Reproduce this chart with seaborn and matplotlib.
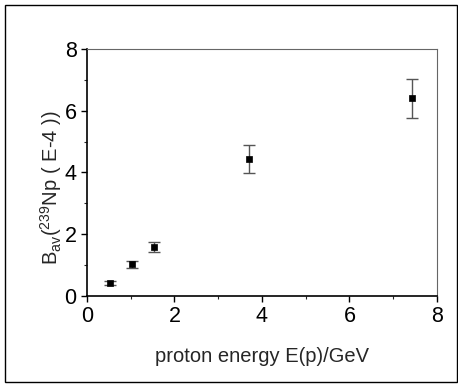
import matplotlib
matplotlib.use("Agg")
import matplotlib.pyplot as plt
import seaborn as sns
import pandas as pd
from matplotlib.patches import Rectangle
from matplotlib.ticker import MultipleLocator

energy = [0.52, 1.03, 1.52, 3.71, 7.42]
bav = [0.43, 1.03, 1.58, 4.44, 6.40]
err = [0.07, 0.11, 0.16, 0.45, 0.64]
ticks = [0, 2, 4, 6, 8]

sns.set_style("ticks")
plt.rcParams['font.family'] = ['Liberation Sans', 'DejaVu Sans']
plt.rcParams['mathtext.fontset'] = 'custom'
plt.rcParams['mathtext.rm'] = 'Liberation Sans'

df = pd.DataFrame({"E": energy, "B": bav, "err": err})

fig = plt.figure(figsize=(4.58, 3.85), dpi=100)
ax = fig.add_axes([0.19, 0.231, 0.764, 0.642])

ax.errorbar(df["E"], df["B"], yerr=df["err"], fmt='none', ecolor='#555555',
            elinewidth=1.0, capsize=4, capthick=1.0, zorder=2)
sns.scatterplot(data=df, x="E", y="B", marker='s', color='black', s=22,
                edgecolor='black', linewidth=0.5, ax=ax, zorder=3)

ax.set_xlim(0, 8)
ax.set_ylim(0, 8)
ax.set_xticks(ticks)
ax.set_yticks(ticks)
ax.xaxis.set_minor_locator(MultipleLocator(1))
ax.yaxis.set_minor_locator(MultipleLocator(1))
ax.tick_params(which='major', direction='out', length=4, width=1, labelsize=15.5, colors='black')
ax.tick_params(which='minor', direction='out', length=2.5, width=0.8)
for s in ['left', 'bottom']:
    ax.spines[s].set_linewidth(1.2)
    ax.spines[s].set_color('black')
for s in ['top', 'right']:
    ax.spines[s].set_linewidth(0.8)
    ax.spines[s].set_color('#666666')

ax.set_xlabel("proton energy E(p)/GeV", fontsize=14.5, labelpad=14)
ax.set_ylabel(r"B$_\mathregular{av}$($^\mathregular{239}$Np ( E-4 ))", fontsize=14.5)
ax.yaxis.set_label_coords(-0.065, 0.437)

fig.patches.append(Rectangle((0.012, 0.008), 0.985, 0.98, transform=fig.transFigure,
                             fill=False, edgecolor='black', linewidth=1.0))

fig.savefig("out.png", dpi=100)
